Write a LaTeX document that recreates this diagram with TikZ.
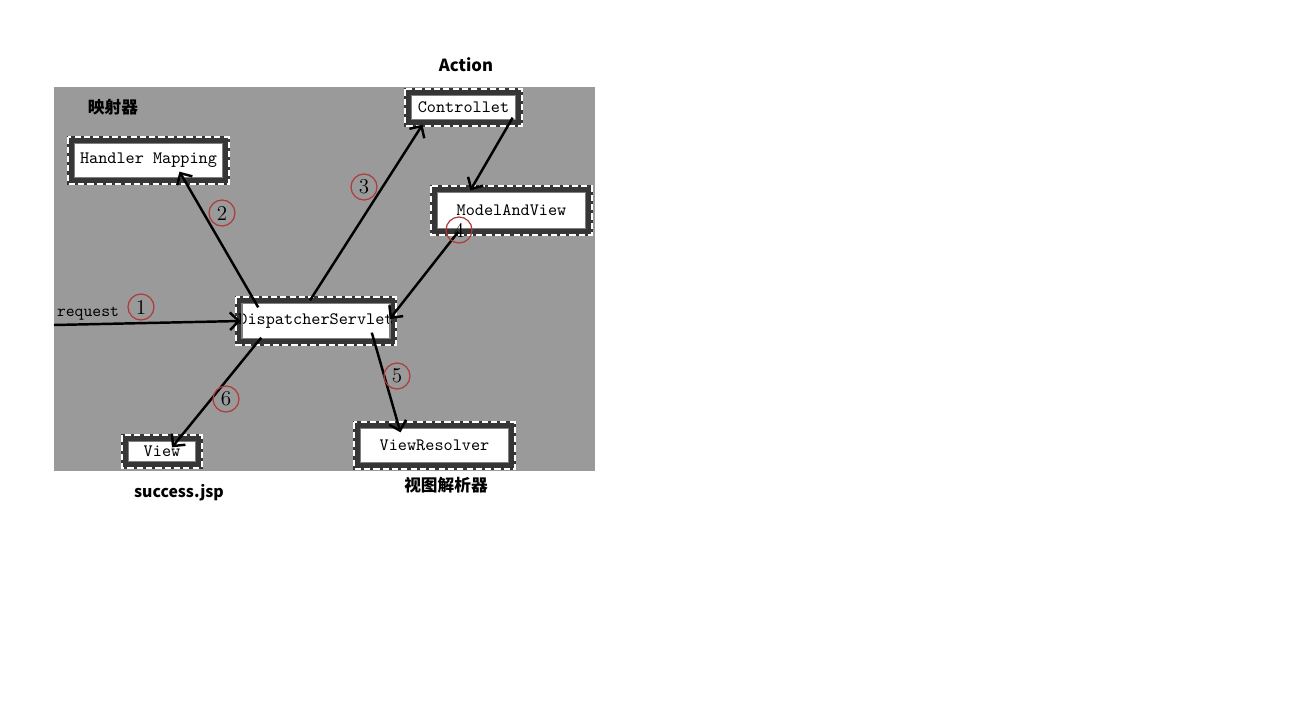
\documentclass[tikz,border=0pt]{standalone}
\usepackage{fontspec}
\usetikzlibrary{arrows.meta}
\newfontfamily\cjk{Noto Sans CJK SC}
\definecolor{panel}{HTML}{9A9A9A}
\definecolor{rim}{HTML}{363636}
\definecolor{ring}{HTML}{B03A3A}

\begin{document}
\begin{tikzpicture}[
    x=0.02cm, y=-0.02cm,
    unit/.style={
        draw=rim,
        line width=3.6pt,
        fill=white,
        inner sep=0pt,
        font=\ttfamily\fontsize{9.9}{11}\selectfont
    },
    flow/.style={-{Straight Barb[length=5pt,width=10pt]}, line width=1.4pt},
    num/.style={
        circle,
        draw=ring,
        line width=0.7pt,
        minimum size=0.52cm,
        inner sep=0pt,
        font=\fontsize{12}{13}\selectfont
    },
    tag/.style={font=\cjk\bfseries\fontsize{9.5}{11}\selectfont}
]
\useasboundingbox (0,0) rectangle (1304,720);
\fill[panel] (54,87) rectangle (595,471);

% components
\node[unit, minimum width=3.12cm, minimum height=0.84cm] (hm) at (148.5,160.5) {Handler Mapping};
\node[unit, minimum width=2.24cm, minimum height=0.64cm] (ctrl) at (463.5,107.5) {Controllet};
\node[unit, minimum width=3.12cm, minimum height=0.88cm] (mav) at (511.5,210.5) {ModelAndView};
\node[unit, minimum width=3.10cm, minimum height=0.86cm] (ds) at (316,321) {DispatcherServlet};
\node[unit, minimum width=1.50cm, minimum height=0.56cm] (view) at (162,451.5) {View};
\node[unit, minimum width=3.12cm, minimum height=0.84cm] (vr) at (434.5,445.5) {ViewResolver};

\foreach \b in {hm,ctrl,mav,ds,view,vr} {
    \draw[white, line width=1.2pt, dash pattern=on 3.5pt off 1.8pt]
        ([shift={(0.6pt,-0.6pt)}]\b.north west) rectangle ([shift={(-0.6pt,0.6pt)}]\b.south east);
    \draw[gray, line width=0.7pt]
        ([shift={(3.9pt,-3.9pt)}]\b.north west) rectangle ([shift={(-3.9pt,3.9pt)}]\b.south east);
}

% captions
\node[tag] (action) at (466,65) {Action};
\node[tag] (mapper) at (113,107) {映射器};
\node[tag, font=\cjk\bfseries\fontsize{9}{11}\selectfont] (jsp) at (179,493) {success.jsp};
\node[tag] (resolver) at (446,485) {视图解析器};
\node[font=\ttfamily\fontsize{9.6}{11}\selectfont] (reqlabel) at (88,314) {request};

% flow
\coordinate (req) at (54,325);
\draw[flow] (req) -- ([xshift=3pt]ds.west);
\draw[flow] ([shift={(23,11)}]ds.north west) -- ([shift={(31,-13)}]hm.south);
\draw[flow] ([shift={(-6,4)}]ds.north) -- ([shift={(-41,-2)}]ctrl.south);
\draw[flow] ([shift={(-10,-9)}]ctrl.south east) -- ([shift={(40,5)}]mav.north west);
\draw[flow] ([shift={(28,-4)}]mav.south west) -- ([shift={(-7,-2)}]ds.east);
\draw[flow] ([shift={(-25,-13)}]ds.south east) -- ([shift={(-34,11)}]vr.north);
\draw[flow] ([shift={(26,-8)}]ds.south west) -- ([shift={(10,13)}]view.north);

% steps
\node[num] (n1) at (141,307) {1};
\node[num] (n2) at (222,213) {2};
\node[num] (n3) at (364,187) {3};
\node[num] (n4) at (459,230) {4};
\node[num] (n5) at (397,376) {5};
\node[num] (n6) at (226,399) {6};
\end{tikzpicture}
\end{document}
